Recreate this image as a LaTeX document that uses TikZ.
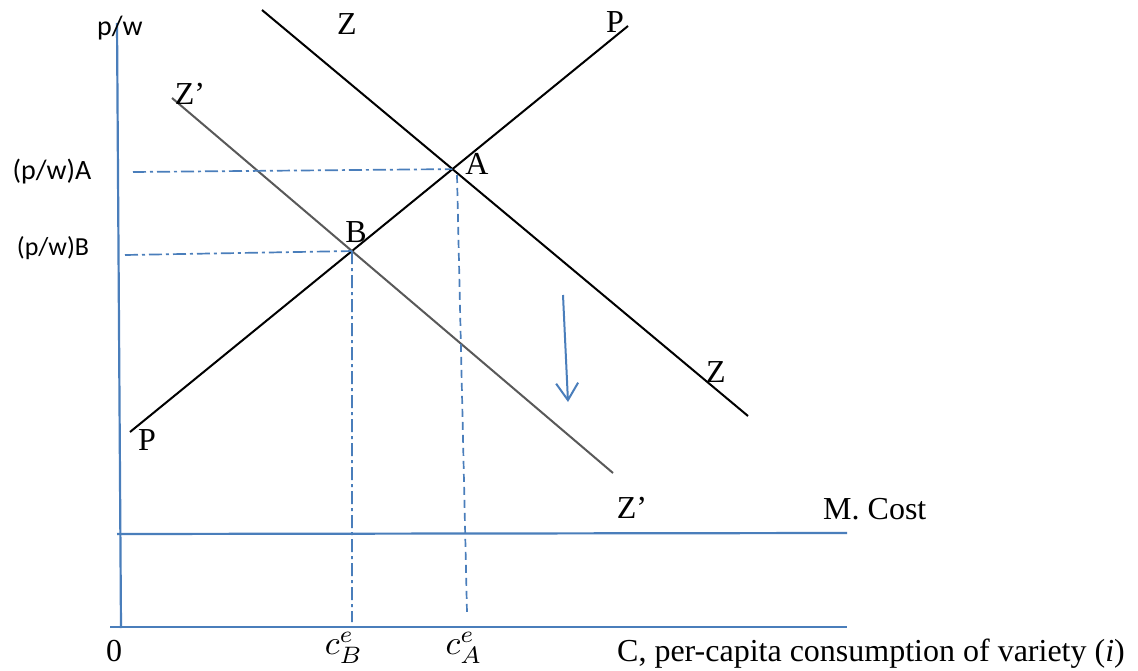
\documentclass[tikz,border=0pt]{standalone}
\usepackage{fontspec}
\setmainfont{Liberation Serif}
\newfontfamily\calfont{Carlito}
\usetikzlibrary{arrows.meta}
\definecolor{axblue}{RGB}{74,126,187}
\definecolor{zgray}{RGB}{89,89,89}
\tikzset{
  axisline/.style={draw=axblue, line width=2.2pt},
  curveline/.style={draw=black, line width=2pt},
  curvegray/.style={draw=zgray, line width=2pt},
  dashdotline/.style={draw=axblue, line width=1.7pt, dash pattern=on 13pt off 4pt on 3pt off 4pt},
  dashline/.style={draw=axblue, line width=1.7pt, dash pattern=on 8pt off 5pt},
  tlabel/.style={font=\fontsize{32}{32}\selectfont, inner sep=0pt, anchor=base},
  slabel/.style={font=\calfont\fontsize{28}{28}\selectfont, inner sep=0pt},
  mlabel/.style={font=\normalsize, inner sep=0pt, scale=3.4},
}
\begin{document}
\begin{tikzpicture}[x=1pt, y=-1pt]
\useasboundingbox (0,0) rectangle (1138,671);
\fill[white] (0,0) rectangle (1138,671);

% axes
\coordinate (ytop) at (117,23);
\coordinate (ybot) at (121,628);
\coordinate (xl) at (110,627);
\coordinate (xr) at (847,627);
\coordinate (ml) at (117,534);
\coordinate (mr) at (847,533);
\draw[axisline] (ytop) -- (ybot);
\draw[axisline] (xl) -- (xr);
\draw[axisline] (ml) -- (mr);

% curves
\coordinate (p1) at (130,432);
\coordinate (p2) at (628,26);
\coordinate (z1) at (262,10);
\coordinate (z2) at (748,416);
\coordinate (zp1) at (172,98);
\coordinate (zp2) at (613,473);
\draw[curveline] (p1) -- (p2);
\draw[curveline] (z1) -- (z2);
\draw[curvegray] (zp1) -- (zp2);

\coordinate (A) at (intersection of p1--p2 and z1--z2);
\coordinate (B) at (intersection of p1--p2 and zp1--zp2);

% guide lines
\coordinate (yA) at (133,172);
\coordinate (yB) at (125,255);
\coordinate (xB) at (352,622);
\coordinate (Atop) at (457,175);
\coordinate (xA) at (467,613);
\draw[dashdotline] (yA) -- (A);
\draw[dashdotline] (yB) -- (B);
\draw[dashdotline] (B) -- (xB);
\draw[dashline] (Atop) -- (xA);

% shift arrow
\coordinate (ar1) at (563,295);
\coordinate (ar2) at (568,402);
\draw[draw=axblue, line width=2pt, -{Straight Barb[length=17pt, width=22pt, line width=2pt]}] (ar1) -- (ar2);

% labels
\node[tlabel] (lZt) at (347,35) {Z};
\node[tlabel] (lPt) at (615,33) {P};
\node[tlabel] (lZpt) at (190,105) {Z’};
\node[tlabel] (lA) at (477,175) {A};
\node[tlabel] (lB) at (356,243) {B};
\node[tlabel] (lZr) at (716,382) {Z};
\node[tlabel] (lPb) at (147,450) {P};
\node[tlabel] (lZpb) at (632,518) {Z’};
\node[tlabel, anchor=base west] (lM) at (823,519) {M. Cost};
\node[tlabel] (l0) at (114,661) {0};
\node[tlabel, anchor=base east] (lC) at (1125,661) {C, per-capita consumption of variety (\textit{i})};

\node[slabel] (lpw) at (120,28) {p/w};
\node[slabel] (lpwA) at (52,172) {(p/w)A};
\node[slabel, font=\calfont\fontsize{26}{26}\selectfont] (lpwB) at (53,248) {(p/w)B};

\node[mlabel] (lcB) at (344,648) {$c_B^e$};
\node[mlabel] (lcA) at (464,648) {$c_A^e$};
\end{tikzpicture}
\end{document}
